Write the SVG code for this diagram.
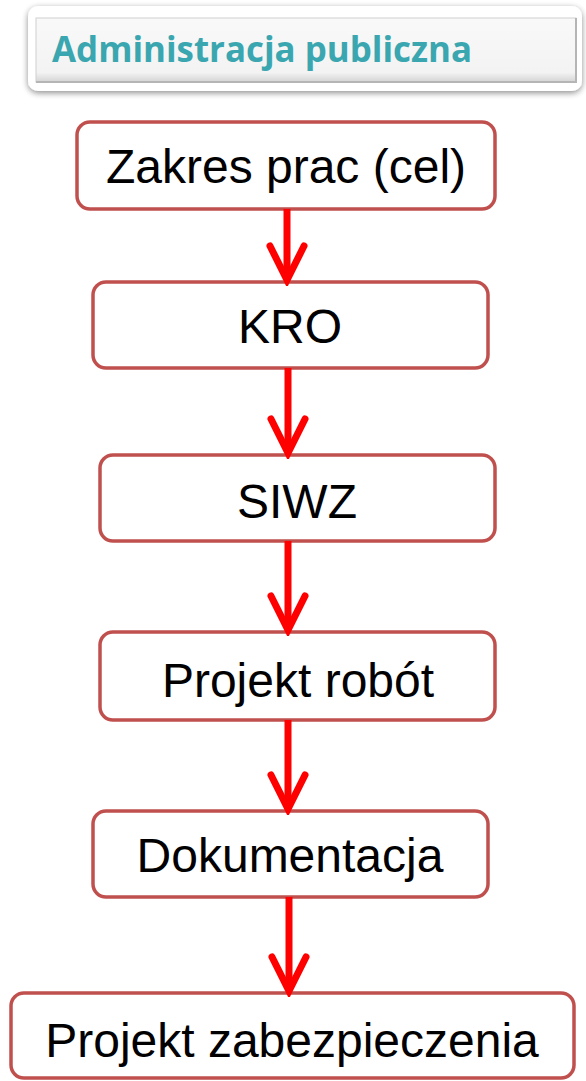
<svg xmlns="http://www.w3.org/2000/svg" width="586" height="1081" viewBox="0 0 586 1081">
  <defs>
    <filter id="shadow" x="-10%" y="-30%" width="120%" height="160%">
      <feGaussianBlur in="SourceAlpha" stdDeviation="3"/>
      <feOffset dx="0" dy="2" result="b"/>
      <feComponentTransfer><feFuncA type="linear" slope="0.45"/></feComponentTransfer>
      <feMerge><feMergeNode/><feMergeNode in="SourceGraphic"/></feMerge>
    </filter>
    <linearGradient id="panel" x1="0" y1="0" x2="0" y2="1">
      <stop offset="0" stop-color="#f9f9f9"/>
      <stop offset="0.85" stop-color="#f3f3f3"/>
      <stop offset="1" stop-color="#d4d4d4"/>
    </linearGradient>
    <marker id="arrow" markerWidth="44" markerHeight="44" refX="38" refY="22" orient="auto" markerUnits="userSpaceOnUse" viewBox="0 0 44 44">
      <path d="M4 5 L38 22 L4 39" fill="none" stroke="#ff0000" stroke-width="7" stroke-linecap="round" stroke-linejoin="miter"/>
    </marker>
  </defs>
  <style>
    .box { fill: #ffffff; stroke: #c0504d; stroke-width: 3.5; }
    .lbl { font-family: "Liberation Sans", Arial, sans-serif; font-size: 48px; fill: #000000; text-anchor: middle; }
    .conn { stroke: #ff0000; stroke-width: 7; fill: none; }
    .hdr { font-family: "Open Sans", "Liberation Sans", sans-serif; font-weight: bold; font-size: 35px; fill: #3aa6b0; }
  </style>

  <g id="header">
    <rect x="28" y="6" width="554" height="85" rx="10" fill="#ffffff" filter="url(#shadow)"/>
    <rect x="36" y="18" width="540" height="64" fill="url(#panel)" stroke="#cfcfcf" stroke-width="1"/>
    <path d="M36 82 L576 82 L576 18" fill="none" stroke="#b5b5b5" stroke-width="2"/>
    <text class="hdr" x="52" y="62" textLength="420" lengthAdjust="spacingAndGlyphs">Administracja publiczna</text>
  </g>

  <g id="n1">
    <rect class="box" x="77" y="122" width="418" height="87" rx="13"/>
    <text class="lbl" x="286" y="183">Zakres prac (cel)</text>
  </g>
  <g id="n2">
    <rect class="box" x="93" y="282" width="395" height="86" rx="13"/>
    <text class="lbl" x="290" y="343">KRO</text>
  </g>
  <g id="n3">
    <rect class="box" x="100" y="455" width="395" height="86" rx="13"/>
    <text class="lbl" x="297" y="518">SIWZ</text>
  </g>
  <g id="n4">
    <rect class="box" x="100" y="632" width="395" height="88" rx="13"/>
    <text class="lbl" x="298" y="697">Projekt robót</text>
  </g>
  <g id="n5">
    <rect class="box" x="93" y="811" width="395" height="86" rx="13"/>
    <text class="lbl" x="290" y="872">Dokumentacja</text>
  </g>
  <g id="n6">
    <rect class="box" x="11" y="993" width="563" height="85" rx="13"/>
    <text class="lbl" x="292" y="1057">Projekt zabezpieczenia</text>
  </g>

  <g id="connectors">
    <line class="conn" x1="287" y1="209" x2="287" y2="280" marker-end="url(#arrow)"/>
    <line class="conn" x1="288" y1="368" x2="288" y2="453" marker-end="url(#arrow)"/>
    <line class="conn" x1="288" y1="541" x2="288" y2="630" marker-end="url(#arrow)"/>
    <line class="conn" x1="288" y1="720" x2="288" y2="809" marker-end="url(#arrow)"/>
    <line class="conn" x1="289" y1="897" x2="289" y2="991" marker-end="url(#arrow)"/>
  </g>
</svg>
